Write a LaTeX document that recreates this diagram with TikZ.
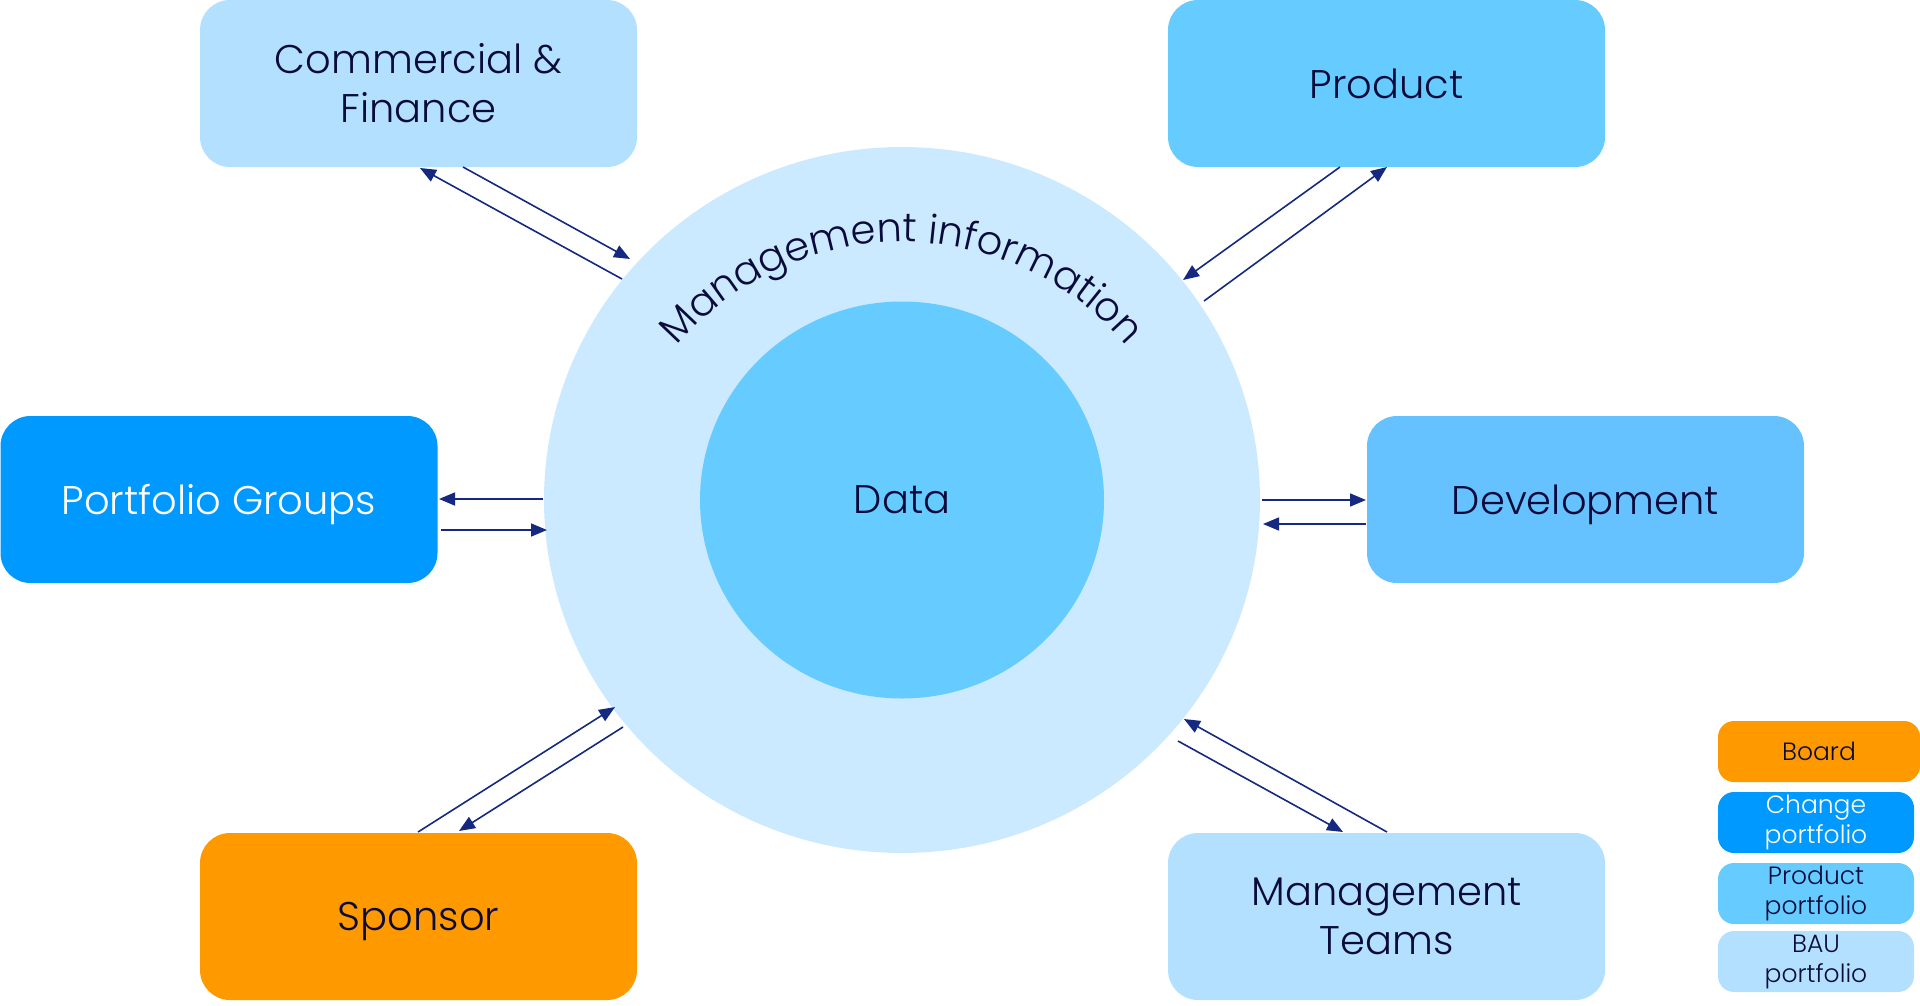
\documentclass[tikz,border=0pt]{standalone}
\usepackage{fontspec}
\setmainfont{Poppins}[UprightFont=* Light, BoldFont=* Medium]
\usetikzlibrary{arrows.meta,decorations.text,shapes.geometric}
\definecolor{txt}{HTML}{0B0B3B}
\definecolor{arr}{HTML}{14297F}
\definecolor{bau}{HTML}{B3E0FF}
\definecolor{prod}{HTML}{66CCFF}
\definecolor{dev}{HTML}{66C2FF}
\definecolor{chg}{HTML}{0099FF}
\definecolor{brd}{HTML}{FF9900}
\definecolor{outerc}{HTML}{CCEAFF}
\tikzset{
  box/.style={rectangle, rounded corners=30pt, minimum width=437pt, minimum height=167pt, inner sep=0pt, align=center, text=txt, font=\fontsize{40}{49}\selectfont},
  oneline/.style={text depth=0pt},
  keybox/.style={rectangle, rounded corners=16pt, minimum height=61pt, inner sep=0pt, align=center, text=txt, font=\fontsize{25}{30}\selectfont},
  link/.style={draw=arr, line width=1.6pt, -{Triangle[length=16pt,width=13pt]}}
}
\begin{document}
\begin{tikzpicture}[x=1pt,y=-1pt]
\useasboundingbox (0,0) rectangle (1920,1005);
% circles
\node[ellipse, fill=outerc, minimum width=716pt, minimum height=706pt, inner sep=0pt] (mi) at (902,500) {};
\node[ellipse, fill=prod, minimum width=404pt, minimum height=397pt, inner sep=0pt, text=txt, font=\fontsize{40}{49}\selectfont] (data) at (902,500) {Data};
\coordinate (arcc) at (902,537);
\path[decorate, decoration={text along path, text align=center,
  text={|\fontsize{40}{40}\selectfont\color{txt}|Management information}}]
  (arcc) ++(140:295pt) arc[start angle=140, end angle=40, radius=295pt];
% boxes
\node[box, fill=bau] (cf) at (418.5,83.5) {Commercial \&\\Finance};
\node[box, fill=prod, oneline] (pr) at (1386.5,83.5) {Product};
\node[box, fill=chg, text=white, oneline] (pg) at (219,499.5) {Portfolio Groups};
\node[box, fill=dev, oneline] (dv) at (1585.5,499.5) {Development};
\node[box, fill=brd, oneline] (sp) at (418.5,916.5) {Sponsor};
\node[box, fill=bau] (mt) at (1386.5,916.5) {Management\\Teams};
% legend
\node[keybox, fill=brd, minimum width=202pt] (kb) at (1819,751.5) {Board};
\node[keybox, fill=chg, minimum width=196pt, text=white, yshift=-3pt] (kc) at (1816,819.5) {Change\\portfolio};
\node[keybox, fill=prod, minimum width=196pt, yshift=-3pt] (kp) at (1816,890.5) {Product\\portfolio};
\node[keybox, fill=bau, minimum width=196pt, yshift=-3pt] (ka) at (1816,958.5) {BAU\\portfolio};
% connector ends
\coordinate (c1s) at (622,279); \coordinate (c1e) at (420,168);
\coordinate (c2s) at (463,167); \coordinate (c2e) at (630,259);
\coordinate (p1s) at (1340,167); \coordinate (p1e) at (1183,280);
\coordinate (p2s) at (1204,301); \coordinate (p2e) at (1387,167);
\coordinate (g1s) at (543,499); \coordinate (g1e) at (439,499);
\coordinate (g2s) at (441,530); \coordinate (g2e) at (547,530);
\coordinate (d1s) at (1262,500); \coordinate (d1e) at (1366,500);
\coordinate (d2s) at (1366,524); \coordinate (d2e) at (1263,524);
\coordinate (s1s) at (418,832); \coordinate (s1e) at (615,707);
\coordinate (s2s) at (623,727); \coordinate (s2e) at (459,831);
\coordinate (m1s) at (1178,741); \coordinate (m1e) at (1343,832);
\coordinate (m2s) at (1387,832); \coordinate (m2e) at (1184,719);
% connectors
\draw[link] (c1s) -- (c1e);
\draw[link] (c2s) -- (c2e);
\draw[link] (p1s) -- (p1e);
\draw[link] (p2s) -- (p2e);
\draw[link] (g1s) -- (g1e);
\draw[link] (g2s) -- (g2e);
\draw[link] (d1s) -- (d1e);
\draw[link] (d2s) -- (d2e);
\draw[link] (s1s) -- (s1e);
\draw[link] (s2s) -- (s2e);
\draw[link] (m1s) -- (m1e);
\draw[link] (m2s) -- (m2e);
\end{tikzpicture}
\end{document}
